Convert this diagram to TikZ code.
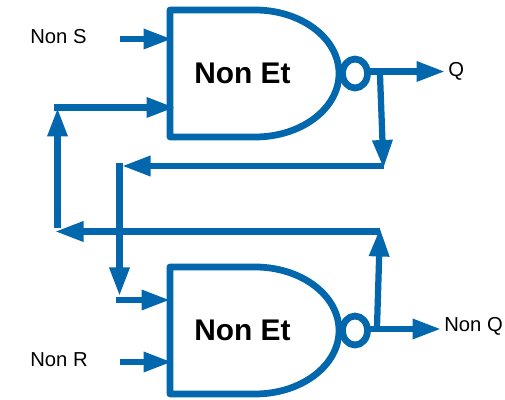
\documentclass[tikz,border=0pt]{standalone}
\usepackage{fontspec}
\setmainfont{Liberation Sans}
\usetikzlibrary{arrows.meta}

\definecolor{wireblue}{RGB}{2,103,172}

\tikzset{
  wire/.style={draw=wireblue, line width=1.25mm, -{Triangle[length=5.7mm,width=3.8mm]}},
  plain/.style={draw=wireblue, line width=1.35mm},
  lbl/.style={anchor=base west, font=\fontsize{11.5}{13}\selectfont, inner sep=0pt},
  gatelbl/.style={anchor=base, font=\fontsize{17}{20}\selectfont\bfseries, inner sep=0pt}
}

\begin{document}
\begin{tikzpicture}

\useasboundingbox (0,0) rectangle (10.1,8);

% Gates: straight back, rounded nose, small bubble at the output
\foreach \g\y in {top/6.53, bot/1.39} {
  \draw [plain, line join=round] (5.1,\y+1.27) -- (3.4,\y+1.27) -- (3.4,\y-1.27) -- (5.1,\y-1.27)
    arc (-90:90:1.68 and 1.27);
  \draw [plain] (7.1,\y) ellipse (0.25 and 0.29);
  \node [gatelbl] (\g Name) at (4.85,\y-0.2) {Non Et};
}

% Labels
\node [lbl] (nonS) at (0.6,7.13) {Non S};
\node [lbl] (nonR) at (0.6,0.66) {Non R};
\node [lbl] (q) at (8.96,6.46) {Q};
\node [lbl] (nonQ) at (8.88,1.37) {Non Q};

% Ends of the wires
\coordinate (S0) at (2.4,7.22);
\coordinate (S1) at (3.44,7.22);
\coordinate (R0) at (2.4,0.76);
\coordinate (R1) at (3.44,0.76);
\coordinate (A0) at (1.08,5.85);
\coordinate (A1) at (3.5,5.85);
\coordinate (B0) at (1.15,3.44);
\coordinate (B1) at (1.15,5.84);
\coordinate (C0) at (7.68,4.68);
\coordinate (C1) at (2.44,4.68);
\coordinate (D0) at (2.39,4.74);
\coordinate (D1) at (2.39,2.08);
\coordinate (E0) at (2.32,2.0);
\coordinate (E1) at (3.4,2.0);
\coordinate (F0) at (7.6,3.37);
\coordinate (F1) at (1.1,3.37);
\coordinate (Q0) at (7.34,6.57);
\coordinate (Q1) at (8.9,6.57);
\coordinate (G0) at (7.6,6.5);
\coordinate (G1) at (7.67,4.63);
\coordinate (N0) at (7.34,1.42);
\coordinate (N1) at (8.82,1.42);
\coordinate (H0) at (7.54,1.46);
\coordinate (H1) at (7.6,3.44);

% Draw the wires
\foreach \i\j in {S0/S1, R0/R1, A0/A1, B0/B1, C0/C1, D0/D1, E0/E1, F0/F1, Q0/Q1, G0/G1, N0/N1, H0/H1} {
  \draw [wire] (\i) -- (\j);
}

\end{tikzpicture}
\end{document}
